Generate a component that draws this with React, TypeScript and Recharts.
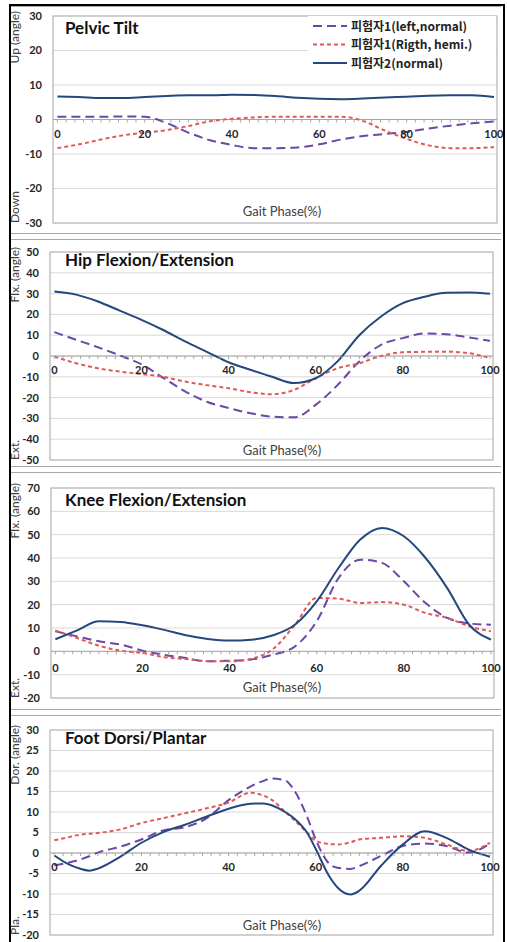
import React from "react";
import {
  LineChart,
  Line,
  XAxis,
  YAxis,
  CartesianGrid,
  ReferenceLine,
  ReferenceArea,
  Legend,
} from "recharts";

// gait phase (%) sample points
const phase5 = [0, 5, 10, 15, 20, 25, 30, 35, 40, 45, 50, 55, 60, 65, 70, 75, 80, 85, 90, 95, 100];
const footPhase = [0, 3, 5, 8, 10, 15, 20, 25, 30, 35, 40, 45, 48, 50, 53, 55, 58, 60, 63, 65, 68, 70, 75, 80, 85, 90, 95, 100];

const seriesNames = ["피험자1(left,normal)", "피험자1(Rigth, hemi.)", "피험자2(normal)"];

const pelvicLeft = [0.8, 0.8, 0.8, 0.9, 0.8, -1.0, -3.8, -6.0, -7.4, -8.3, -8.3, -8.1, -7.2, -5.8, -4.8, -4.2, -3.6, -2.6, -1.8, -1.1, -0.6];
const pelvicRight = [-8.3, -7.2, -5.8, -4.6, -3.8, -3.1, -1.9, -0.5, 0.2, 0.6, 0.8, 0.8, 0.8, 0.8, -0.4, -3.2, -5.6, -7.5, -8.3, -8.3, -8.0];
const pelvicNormal = [6.7, 6.5, 6.2, 6.2, 6.5, 6.8, 7.0, 7.0, 7.2, 7.1, 6.8, 6.3, 6.0, 5.9, 6.1, 6.4, 6.6, 6.9, 7.0, 7.0, 6.5];

const hipLeft = [11.5, 7.8, 4.2, 0.3, -4.0, -10.5, -17.0, -22.0, -25.0, -27.5, -29.2, -29.5, -23.5, -14.0, -2.6, 5.4, 8.6, 10.8, 10.5, 9.0, 7.3];
const hipRight = [-0.3, -3.5, -5.9, -7.5, -8.7, -10.0, -12.3, -14.0, -15.5, -17.4, -18.4, -16.3, -10.7, -5.9, -3.5, 0.0, 1.8, 2.0, 2.1, 1.4, -1.0];
const hipNormal = [31.0, 29.5, 26.2, 21.8, 17.4, 12.5, 7.0, 2.0, -3.0, -6.6, -10.0, -13.0, -10.7, -2.6, 10.0, 19.0, 25.4, 28.5, 30.4, 30.5, 29.9];

const kneeLeft = [8.6, 6.4, 4.3, 2.9, 0.3, -1.5, -2.9, -4.3, -4.0, -3.5, -1.4, 2.1, 12.9, 31.4, 39.3, 37.9, 30.0, 20.7, 14.3, 11.9, 11.4];
const kneeRight = [8.9, 5.7, 2.4, 0.3, -0.7, -2.5, -3.3, -4.2, -4.3, -3.2, 1.0, 11.4, 22.9, 22.6, 20.7, 21.1, 20.0, 16.4, 14.3, 10.7, 8.6];
const kneeNormal = [5.2, 9.0, 12.9, 12.6, 11.2, 9.2, 6.9, 5.3, 4.6, 5.0, 6.9, 11.4, 21.4, 35.7, 47.9, 52.9, 49.3, 40.0, 27.0, 11.4, 5.0];

const footLeft = [-3.0, -2.4, -1.9, -0.8, 0.1, 1.5, 3.3, 5.5, 6.3, 8.5, 12.9, 16.2, 17.6, 18.2, 17.7, 15.4, 8.9, 3.3, -2.5, -3.6, -3.9, -3.2, -0.7, 1.7, 2.3, 1.7, 0.1, 2.3];
const footRight = [3.1, 3.8, 4.3, 4.7, 4.9, 5.7, 7.3, 8.5, 9.7, 10.9, 12.3, 14.7, 14.0, 12.9, 10.0, 8.1, 5.0, 3.0, 2.2, 2.1, 2.6, 3.3, 3.7, 4.1, 3.7, 2.1, 0.5, 2.5];
const footNormal = [-0.6, -2.6, -3.5, -4.3, -3.8, -1.0, 2.5, 5.1, 6.9, 8.9, 10.8, 12.0, 12.1, 11.6, 10.0, 8.5, 5.0, 1.0, -5.5, -8.4, -10.1, -9.2, -3.1, 2.1, 5.3, 3.7, 0.9, -0.9];

const pelvicTicks = [-30, -20, -10, 0, 10, 20, 30];
const hipTicks = [-50, -40, -30, -20, -10, 0, 10, 20, 30, 40, 50];
const kneeTicks = [-20, -10, 0, 10, 20, 30, 40, 50, 60, 70];
const footTicks = [-20, -15, -10, -5, 0, 5, 10, 15, 20, 25, 30];

const phaseLabels = [0, 20, 40, 60, 80, 100];
const phaseMinor = Array.from({ length: 51 }, (_, i) => i * 2);

const X_DOMAIN: [number, number] = [-1, 100.7];
const W = 507;

const COLORS = { left: "#6b47a6", right: "#e05a5a", normal: "#24477d" };
const DASH = { left: "9 5", right: "4 3", normal: undefined as string | undefined };
const KEYS: ("left" | "right" | "normal")[] = ["left", "right", "normal"];

const tickFont = "Lato, 'DejaVu Sans', sans-serif";

function rows(phase: number[], l: number[], r: number[], n: number[]) {
  return phase.map((p, i) => ({ phase: p, left: l[i], right: r[i], normal: n[i] }));
}

const panels = [
  {
    title: "Pelvic Tilt", upper: "Up (angle)", lower: "Down",
    yMin: -30, yMax: 30, ticks: pelvicTicks,
    data: rows(phase5, pelvicLeft, pelvicRight, pelvicNormal),
    box: { top: 6, bottom: 233 }, plot: { left: 53, right: 497, top: 16, bottom: 223 },
    titleBase: 33, labelGap: 18, gaitGap: 7, legend: true,
  },
  {
    title: "Hip Flexion/Extension", upper: "Flx. (angle)", lower: "Ext.",
    yMin: -50, yMax: 50, ticks: hipTicks,
    data: rows(phase5, hipLeft, hipRight, hipNormal),
    box: { top: 239, bottom: 466 }, plot: { left: 50, right: 493, top: 252, bottom: 460 },
    titleBase: 265, labelGap: 18, gaitGap: 5, legend: false,
  },
  {
    title: "Knee Flexion/Extension", upper: "Flx. (angle)", lower: "Ext.",
    yMin: -20, yMax: 70, ticks: kneeTicks,
    data: rows(phase5, kneeLeft, kneeRight, kneeNormal),
    box: { top: 472, bottom: 709 }, plot: { left: 51, right: 494, top: 488, bottom: 698 },
    titleBase: 505, labelGap: 21, gaitGap: 6, legend: false,
  },
  {
    title: "Foot Dorsi/Plantar", upper: "Dor. (angle)", lower: "Pla.",
    yMin: -20, yMax: 30, ticks: footTicks,
    data: rows(footPhase, footLeft, footRight, footNormal),
    box: { top: 715, bottom: 942 }, plot: { left: 50, right: 493, top: 730, bottom: 935 },
    titleBase: 743, labelGap: 18, gaitGap: 5, legend: false,
  },
];

function LegendBox() {
  return (
    <div style={{ background: "#fff", width: 188, height: 60 }}>
      <svg width={188} height={60}>
        {KEYS.map((k, i) => {
          const y = 10 + i * 18.5;
          return (
            <g key={k}>
              <line x1={5} x2={39} y1={y} y2={y} stroke={COLORS[k]} strokeWidth={2} strokeDasharray={DASH[k]} />
              <text
                x={43}
                y={y + 4.5}
                fontSize={12}
                fontWeight={700}
                fill="#222"
                fontFamily="'Noto Sans CJK KR', sans-serif"
              >
                {seriesNames[i]}
              </text>
            </g>
          );
        })}
      </svg>
    </div>
  );
}

function Panel({ p }: { p: (typeof panels)[number] }) {
  const h = p.box.bottom - p.box.top;
  const plotH = p.plot.bottom - p.plot.top;
  const top = p.plot.top - p.box.top;
  const zeroY = top + (plotH * p.yMax) / (p.yMax - p.yMin);

  const zeroTick = (props: any) => {
    const { x, payload } = props;
    const v = payload.value;
    return (
      <g>
        <line x1={x} x2={x} y1={zeroY} y2={zeroY + 3} stroke="#a6a6a6" />
        {phaseLabels.includes(v) && (
          <text
            x={x}
            y={zeroY + p.labelGap}
            textAnchor="middle"
            fontSize={11}
            fontWeight={700}
            fill="#262626"
            fontFamily={tickFont}
          >
            {v}
          </text>
        )}
      </g>
    );
  };

  const yTitle = () => (
    <g fontFamily="Lato, sans-serif" fontSize={12} fill="#404040">
      <text transform={`translate(19, ${top - 5}) rotate(-90)`} textAnchor="end">
        {p.upper}
      </text>
      <text transform={`translate(19, ${top + plotH}) rotate(-90)`} textAnchor="start">
        {p.lower}
      </text>
    </g>
  );

  const xTitle = () => (
    <text
      x={282}
      y={top + plotH - p.gaitGap}
      textAnchor="middle"
      fontSize={13}
      fill="#404040"
      fontFamily="Lato, sans-serif"
    >
      Gait Phase(%)
    </text>
  );

  return (
    <div
      style={{
        position: "absolute",
        left: 0,
        top: p.box.top,
        width: W,
        height: h,
      }}
    >
      <div
        style={{
          position: "absolute",
          left: 11,
          right: 6,
          top: 0,
          height: h - 1,
          borderTop: "1px solid #a8a8a8",
          borderBottom: "1px solid #a8a8a8",
        }}
      />
      <LineChart
        width={W}
        height={h}
        data={p.data}
        margin={{ top, right: W - p.plot.right, left: 0, bottom: p.box.bottom - p.plot.bottom - 1 }}
        style={{ position: "absolute", left: 0, top: 0 }}
      >
        <CartesianGrid vertical={false} stroke="#d9d9d9" />
        <ReferenceArea
          x1={X_DOMAIN[0]}
          x2={X_DOMAIN[1]}
          y1={p.yMin}
          y2={p.yMax}
          fill="none"
          stroke="#b4b4b4"
          strokeWidth={1.2}
        />
        <XAxis
          dataKey="phase"
          type="number"
          domain={X_DOMAIN}
          ticks={phaseMinor}
          interval={0}
          height={1}
          axisLine={false}
          tickLine={false}
          tick={zeroTick}
          allowDataOverflow
          label={{ content: xTitle }}
        />
        <YAxis
          type="number"
          domain={[p.yMin, p.yMax]}
          ticks={p.ticks}
          interval={0}
          width={p.plot.left}
          axisLine={false}
          tickLine={false}
          tickSize={1}
          tickMargin={10}
          tick={{ fontSize: 11, fontWeight: 700, fill: "#262626", fontFamily: tickFont }}
          label={{ content: yTitle }}
        />
        <ReferenceLine y={0} stroke="#a6a6a6" />
        {p.legend && (
          <Legend
            layout="horizontal"
            verticalAlign="middle"
            align="center"
            content={() => <LegendBox />}
            wrapperStyle={{ top: 10, left: 308, width: 188, height: 60 }}
          />
        )}
        {KEYS.map((k, i) => (
          <Line
            key={k}
            dataKey={k}
            name={seriesNames[i]}
            type="monotone"
            stroke={COLORS[k]}
            strokeWidth={2}
            strokeDasharray={DASH[k]}
            dot={false}
            activeDot={false}
            isAnimationActive={false}
          />
        ))}
      </LineChart>
      <div
        style={{
          position: "absolute",
          left: 65,
          top: p.titleBase - p.box.top - 14,
          fontFamily: "Lato, sans-serif",
          fontWeight: 700,
          fontSize: 17,
          lineHeight: "17px",
          color: "#111",
          whiteSpace: "nowrap",
        }}
      >
        {p.title}
      </div>
    </div>
  );
}

export default function App() {
  return (
    <div
      style={{
        position: "absolute",
        left: 0,
        top: 0,
        width: W,
        height: 942,
        background: "#fff",
        overflow: "hidden",
      }}
    >
      {panels.map((p) => (
        <Panel key={p.title} p={p} />
      ))}
      <div
        style={{
          position: "absolute",
          left: 9,
          top: 4,
          width: 492,
          height: 950,
          border: "2px solid #000",
        }}
      />
    </div>
  );
}
